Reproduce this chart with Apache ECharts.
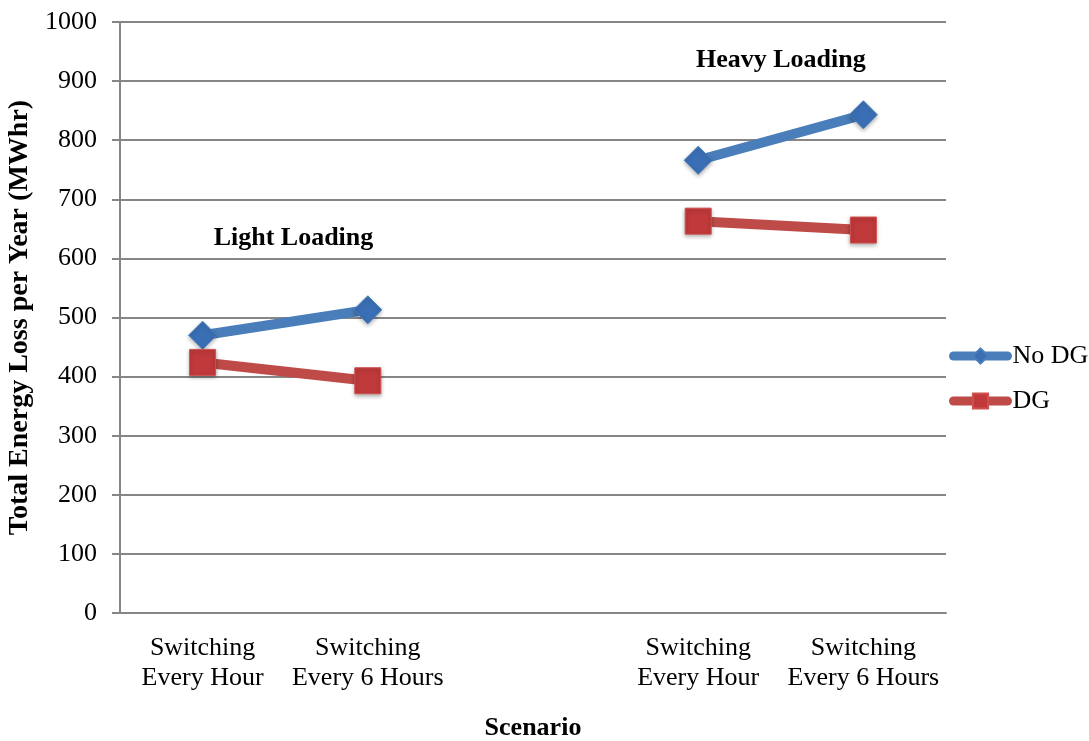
<!DOCTYPE html>
<html><head><meta charset="utf-8">
<script src="https://cdn.jsdelivr.net/npm/echarts@6/dist/echarts.min.js"></script>
<style>html,body{margin:0;padding:0;background:#fff}#c{width:1089px;height:741px}</style>
</head><body><div id="c"></div>
<script>
const categories = ['Switching\nEvery Hour', 'Switching\nEvery 6 Hours', '', 'Switching\nEvery Hour', 'Switching\nEvery 6 Hours'];
const noDG = [470, 513, null, 766, 843];
const dg = [424, 393, null, 663, 648];
const yTicks = [0, 100, 200, 300, 400, 500, 600, 700, 800, 900, 1000];
const annotations = [
  { text: 'Light Loading', cat: 0.55, value: 634 },
  { text: 'Heavy Loading', cat: 3.5, value: 935 }
];
const FONT = '"Liberation Serif", "Times New Roman", serif';
const chart = echarts.init(document.getElementById('c'));
chart.setOption({
  animation: false,
  textStyle: { fontFamily: FONT, color: '#000' },
  grid: { left: 120, right: 143, top: 22, bottom: 128, containLabel: false, outerBoundsMode: 'none' },
  legend: {
    orient: 'vertical', left: 949, top: 343, itemGap: 19, padding: 0,
    itemWidth: 54, itemHeight: 19,
    lineStyle: { width: 9, cap: 'round' },
    textStyle: { fontFamily: FONT, fontSize: 26, color: '#000' },
    data: ['No DG', 'DG']
  },
  xAxis: {
    type: 'category', data: categories, boundaryGap: true,
    name: 'Scenario', nameLocation: 'middle', nameGap: 102,
    nameTextStyle: { fontFamily: FONT, fontSize: 26, fontWeight: 'bold', color: '#000' },
    axisLine: { lineStyle: { color: '#868686', width: 2 } },
    axisTick: { show: false },
    axisLabel: { fontFamily: FONT, fontSize: 26, color: '#000', margin: 20, lineHeight: 30, interval: 0 }
  },
  yAxis: {
    type: 'value', min: 0, max: 1000, interval: 100,
    name: 'Total Energy Loss per Year (MWhr)', nameLocation: 'middle', nameGap: 86,
    nameTextStyle: { fontFamily: FONT, fontSize: 28, fontWeight: 'bold', color: '#000' },
    axisLine: { show: true, lineStyle: { color: '#868686', width: 2 } },
    axisTick: { show: true, length: 8, lineStyle: { color: '#868686', width: 2 } },
    splitLine: { lineStyle: { color: '#868686', width: 2 } },
    axisLabel: { fontFamily: FONT, fontSize: 26, color: '#000', margin: 23,
      formatter: v => yTicks.includes(v) ? String(v) : '' }
  },
  series: [
    {
      name: 'No DG', type: 'line', data: noDG, connectNulls: false,
      symbol: 'diamond', symbolSize: 28,
      lineStyle: { color: '#4a7ebb', width: 10 },
      itemStyle: { color: '#3a6fb5', borderColor: '#4a7ebb', borderWidth: 1,
        shadowColor: 'rgba(0,0,0,0.3)', shadowBlur: 4, shadowOffsetY: 2 }
    },
    {
      name: 'DG', type: 'line', data: dg, connectNulls: false,
      symbol: 'rect', symbolSize: 26,
      lineStyle: { color: '#be4b48', width: 10 },
      itemStyle: { color: '#c0393b', borderColor: '#d05050', borderWidth: 1,
        shadowColor: 'rgba(0,0,0,0.3)', shadowBlur: 4, shadowOffsetY: 2 }
    }
  ]
});
function placeAnnotations() {
  const els = annotations.map(a => {
    const x0 = chart.convertToPixel({ xAxisIndex: 0 }, Math.floor(a.cat));
    const x1 = chart.convertToPixel({ xAxisIndex: 0 }, Math.ceil(a.cat));
    const x = x0 + (x1 - x0) * (a.cat - Math.floor(a.cat));
    const y = chart.convertToPixel({ yAxisIndex: 0 }, a.value);
    return { type: 'text', x: x, y: y,
      style: { text: a.text, font: 'bold 26px ' + FONT, fill: '#000', align: 'center', verticalAlign: 'middle' } };
  });
  chart.setOption({ graphic: els });
}
placeAnnotations();
</script></body></html>
